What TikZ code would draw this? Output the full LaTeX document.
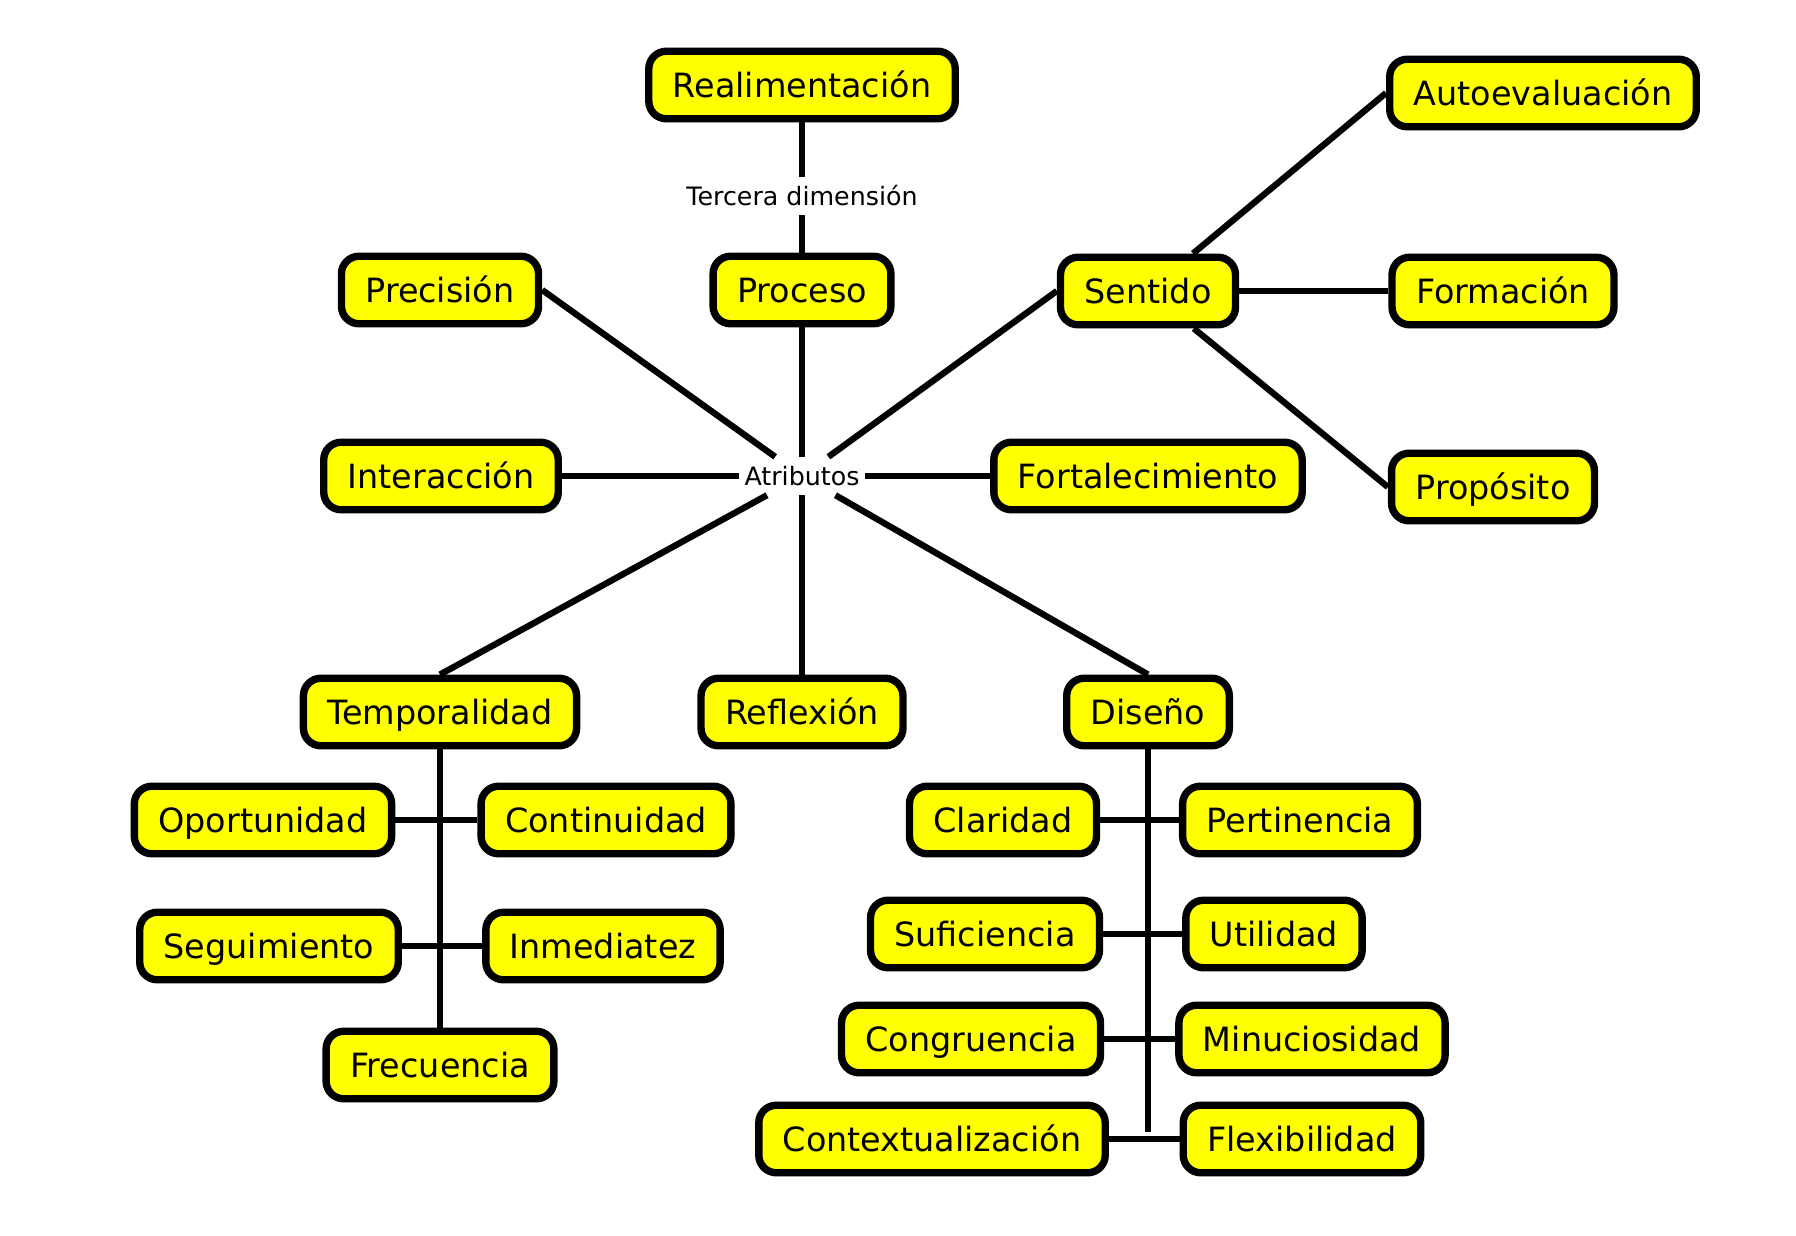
\documentclass[tikz,border=0pt]{standalone}
\usepackage{fontspec}
\setmainfont{DejaVu Sans}
\usetikzlibrary{calc}
\definecolor{boxyellow}{RGB}{255,255,0}

\tikzset{
  box/.style={draw=black, line width=2.1pt, fill=boxyellow, rounded corners=5pt,
    inner xsep=0.24cm, inner ysep=0.215cm, text height=0.245cm, text depth=0cm,
    font=\fontsize{9.5}{11}\selectfont},
  lbl/.style={inner xsep=0.045cm, inner ysep=0pt, minimum height=0.37cm,
    font=\fontsize{7.2}{8}\selectfont},
  link/.style={line width=1.8pt},
}

\begin{document}
\begin{tikzpicture}[x=0.01cm, y=-0.01cm]
\useasboundingbox (0,0) rectangle (1796,1236);
% centre
\node[lbl] (atrib) at (802,476) {Atributos};
\node[lbl] (terc) at (802,196) {Tercera dimensión};
% upper part
\node[box] (real) at (802,85) {Realimentación};
\node[box] (proc) at (802,290) {Proceso};
\node[box] (prec) at (440,290) {Precisión};
\node[box] (sent) at (1148,291) {Sentido};
\node[box] (auto) at (1543,93) {Autoevaluación};
\node[box] (form) at (1503,291) {Formación};
\node[box] (prop) at (1493,487) {Propósito};
\node[box] (inter) at (441,476) {Interacción};
\node[box] (fort) at (1148,476) {Fortalecimiento};
% lower part
\node[box] (temp) at (440,712) {Temporalidad};
\node[box] (refl) at (802,712) {Reflexión};
\node[box] (dis) at (1148,712) {Diseño};
\node[box] (oport) at (263,820) {Oportunidad};
\node[box] (cont) at (606,820) {Continuidad};
\node[box] (segu) at (269,946) {Seguimiento};
\node[box] (inme) at (603,946) {Inmediatez};
\node[box] (frec) at (440,1065) {Frecuencia};
\node[box] (clar) at (1003,820) {Claridad};
\node[box] (pert) at (1300,820) {Pertinencia};
\node[box] (sufi) at (985,934) {Suficiencia};
\node[box] (util) at (1274,934) {Utilidad};
\node[box] (cong) at (971,1039) {Congruencia};
\node[box] (minu) at (1312,1039) {Minuciosidad};
\node[box] (ctx) at (932,1139) {Contextualización};
\node[box] (flex) at (1302,1139) {Flexibilidad};
\coordinate (disend) at (1148,1132);

\draw[link] (real) -- (terc) -- (proc);
\foreach \n in {prec.east, proc, sent.west, inter, fort, temp.north, refl, dis.north}
  \draw[link] (atrib) -- (\n);
\foreach \n in {auto.west, form, prop.west}
  \draw[link] (sent) -- (\n);
\draw[link] (temp) -- (frec);
\draw[link] (oport) -- (cont);
\draw[link] (segu) -- (inme);
\draw[link] (dis) -- (disend);
\draw[link] (clar) -- (pert);
\draw[link] (sufi) -- (util);
\draw[link] (cong) -- (minu);
\draw[link] (ctx) -- (flex);
\end{tikzpicture}
\end{document}
